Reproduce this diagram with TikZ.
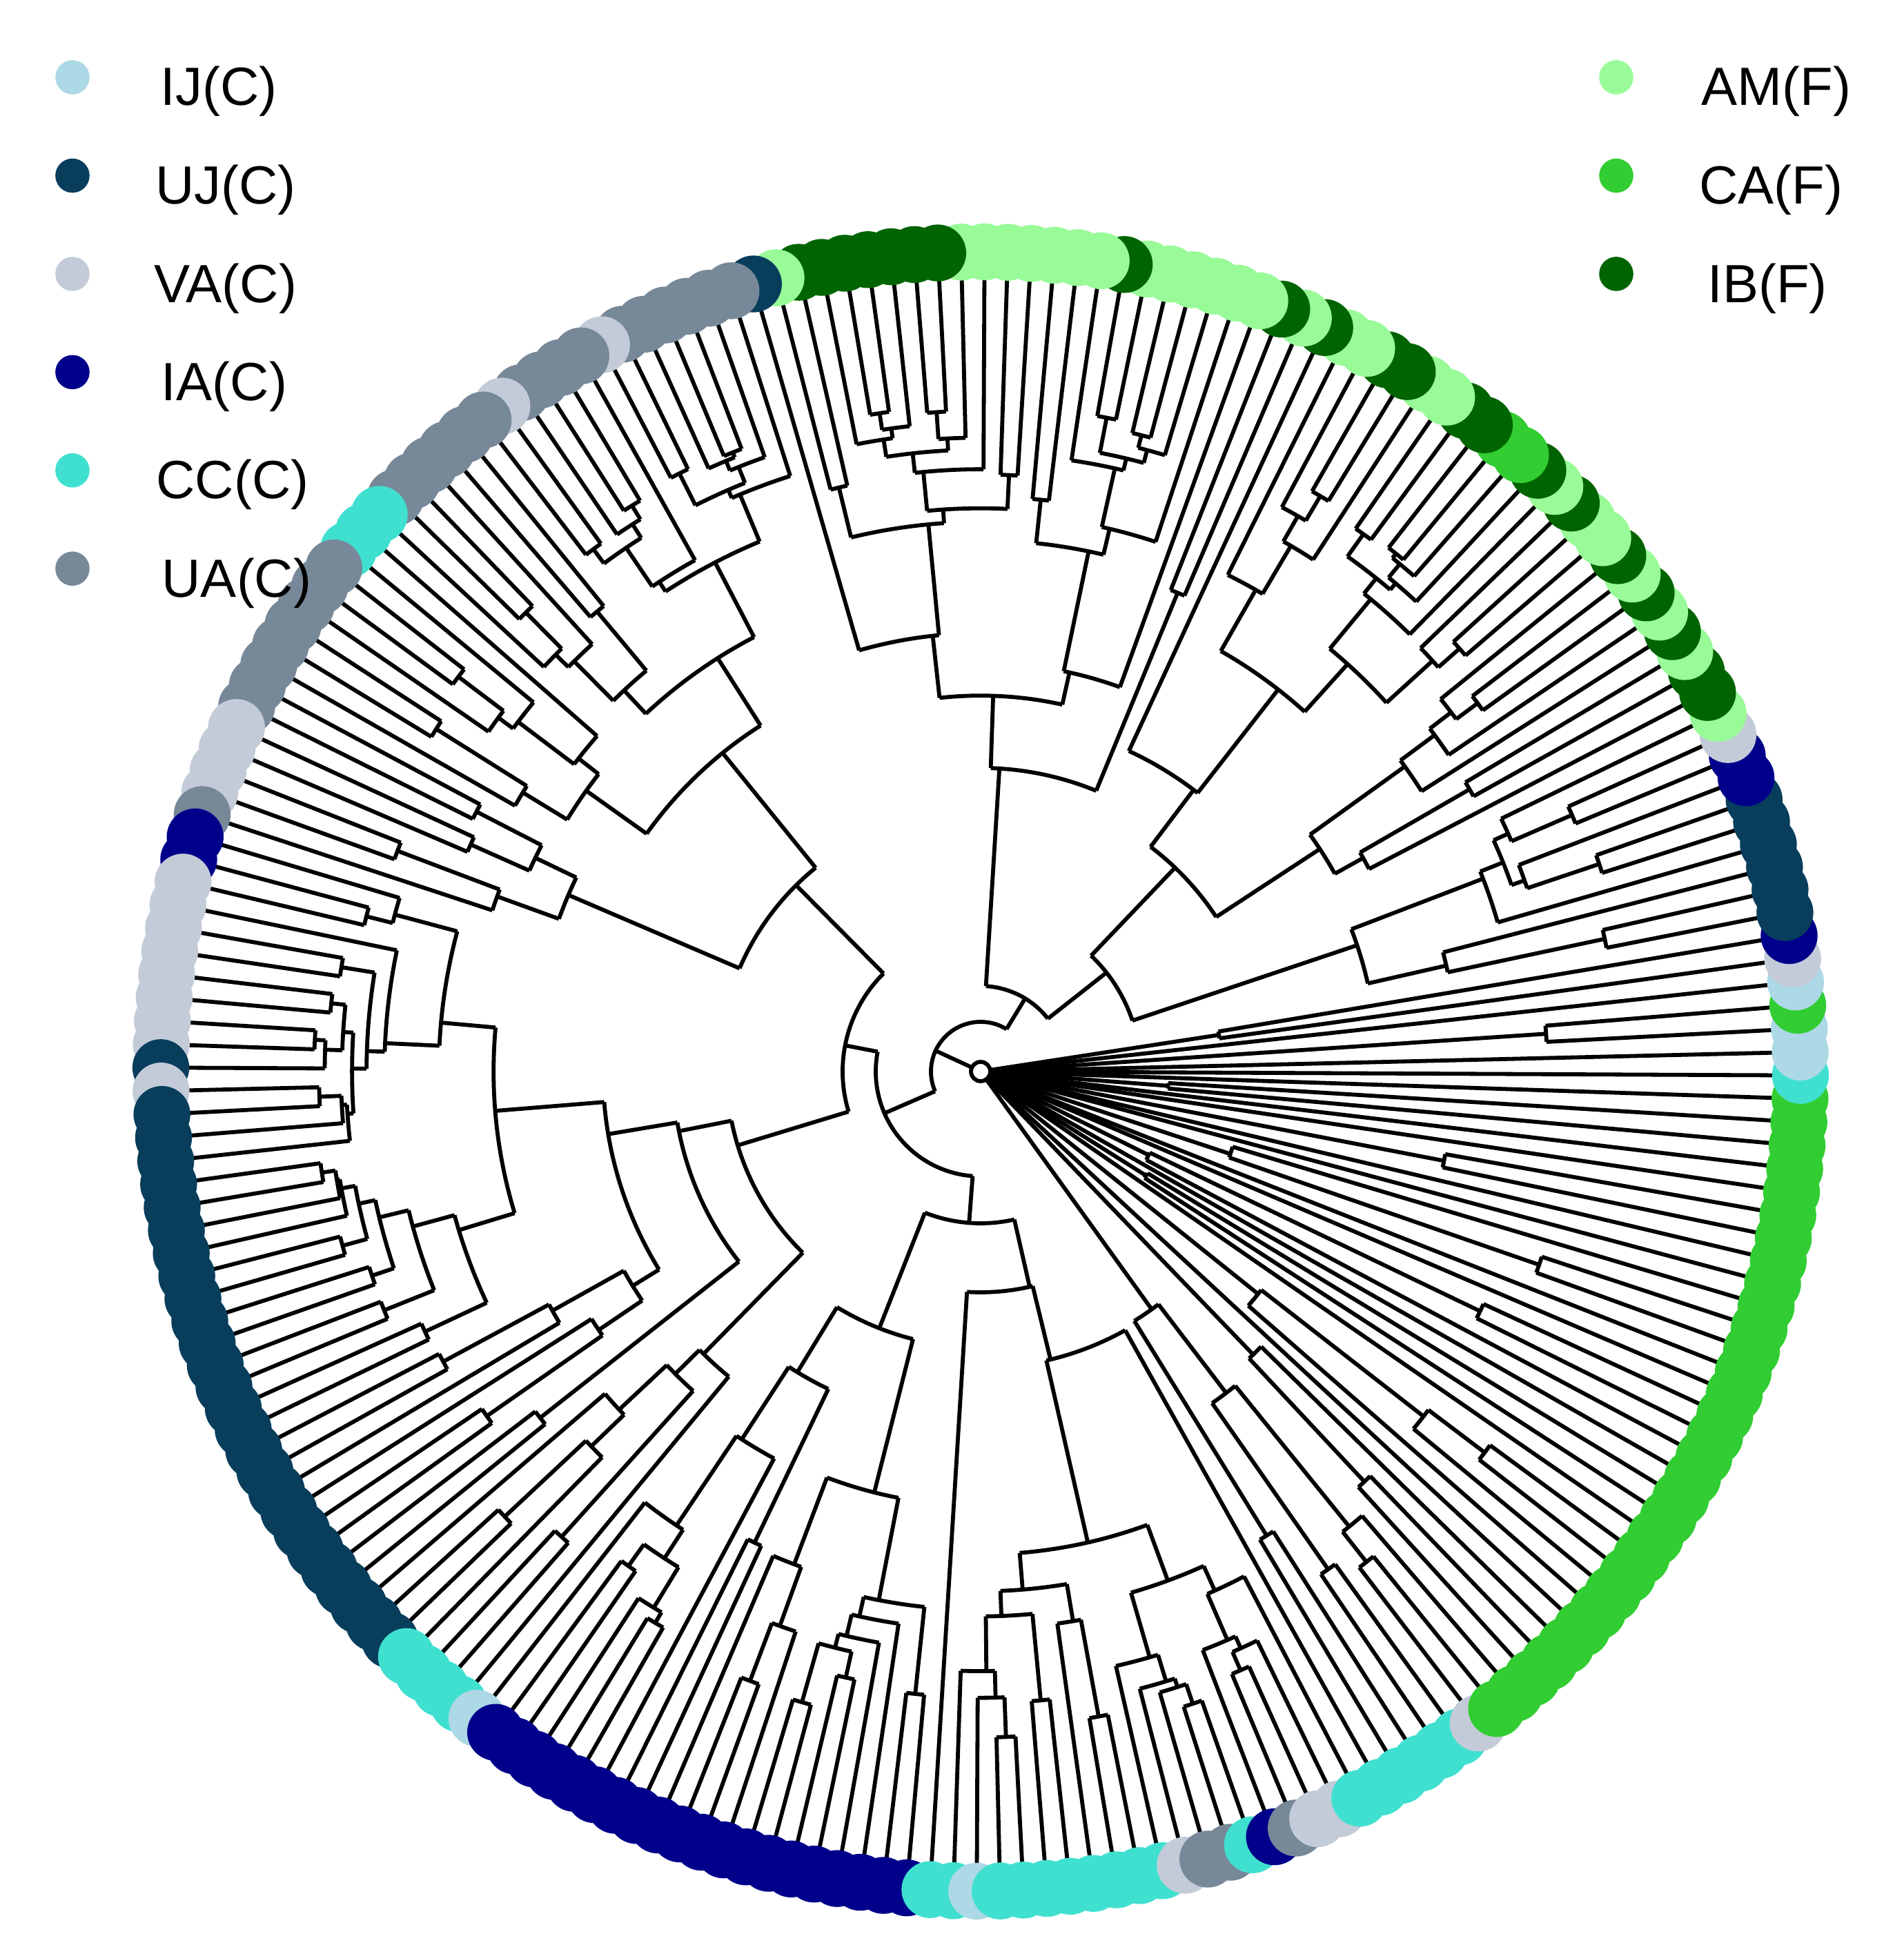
\documentclass[tikz,border=0pt]{standalone}
\usepackage{fontspec}
\setmainfont{Liberation Sans}
\definecolor{kIJ}{HTML}{ADD8E6}
\definecolor{kUJ}{HTML}{083E5C}
\definecolor{kVA}{HTML}{C4CBD8}
\definecolor{kIA}{HTML}{00008B}
\definecolor{kCC}{HTML}{40E0D0}
\definecolor{kUA}{HTML}{778899}
\definecolor{kAM}{HTML}{98FB98}
\definecolor{kCA}{HTML}{32CD32}
\definecolor{kIB}{HTML}{006400}
\newcount\rngx \global\rngx=4321
\newcount\rngt
\newcount\kkc
\def\Ast{-60}
\def\dA{1.636364}
\def\Rend{297}
\def\Rdot{297}
\def\Rlim{245}
\def\fmin{0.1}
\def\fspan{0.42}
\newcommand\nextrand{%
  \rngt=\rngx \multiply\rngt by 171\relax
  \global\rngx=\rngt
  \divide\rngt by 30269\relax \multiply\rngt by 30269\relax
  \global\advance\rngx by -\rngt
  \edef\rndv{\the\numexpr\rngx*999/30269\relax}}
\newcommand\tipline[2]{\begingroup
  \pgfmathsetmacro\ta{\Ast+(#1+0.5)*\dA}%
  \draw[br] (\ta:#2) -- (\ta:\Rend);\endgroup}
\newcommand\clnode[5]{\begingroup
  \pgfmathsetmacro\ta{\Ast+(#1+#3+1)*0.5*\dA}%
  \pgfmathsetmacro\angA{\Ast+(#1+#2+1)*0.5*\dA}%
  \pgfmathsetmacro\angB{\Ast+(#2+#3+2)*0.5*\dA}%
  \draw[br] (\ta:#4) -- (\ta:#5);
  \draw[br] (\angA:#5) arc[start angle=\angA,end angle=\angB,radius=#5];
  \endgroup}
\newcommand\subtreeR[4]{\begingroup
  \nextrand
  \kkc=\numexpr#2-#1\relax
  \multiply\kkc by \rndv\relax
  \divide\kkc by 1000\relax
  \advance\kkc by #1\relax
  \edef\kk{\the\kkc}%
  \clnode{#1}{\kk}{#2}{#3}{#4}%
  \edef\next{\noexpand\subtree{#1}{\kk}{#4}\noexpand\subtree{\the\numexpr\kk+1\relax}{#2}{#4}}%
  \expandafter\endgroup\next}
\newcommand\subtree[3]{%
  \ifnum#1=#2\relax
    \tipline{#1}{#3}%
  \else
    \begingroup
    \nextrand
    \ifnum\numexpr#2-#1\relax=1
      \pgfmathsetmacro\rr{#3+(\Rlim-#3)*(0.25+0.6*\rndv/1000)}%
    \else
      \pgfmathsetmacro\rr{#3+(\Rlim-#3)*(\fmin+\fspan*\rndv/1000)}%
    \fi
    \edef\next{\noexpand\subtreeR{#1}{#2}{#3}{\rr}}%
    \expandafter\endgroup\next
  \fi}
\newcommand\tipdots[3]{\foreach \i in {#1,...,#2}{%
  \pgfmathsetmacro\ta{\Ast+(\i+0.5)*\dA}%
  \fill[#3] (\ta:\Rdot) circle[radius=10.3];}}
\begin{document}
\begin{tikzpicture}[x=1pt,y=1pt,
  br/.style={line width=1.45pt,black,line join=miter},
  lab/.style={anchor=base,inner sep=0pt,font=\fontsize{19.5}{23}\selectfont},
  ldot/.style={circle,inner sep=0pt,minimum size=12.4pt}]
\useasboundingbox (-355.25,-319.75) rectangle (334.25,388.25);
% root
\draw[br] (0,0) circle[radius=3.5];
% fan attached to the root
\def\fmin{0.22}\def\fspan{0.5}
\subtree{0}{6}{3.5}
\subtree{7}{9}{3.5}
\subtree{10}{10}{3.5}
\subtree{11}{14}{3.5}
\subtree{15}{15}{3.5}
\subtree{16}{17}{3.5}
\subtree{18}{18}{3.5}
\subtree{19}{21}{3.5}
\subtree{22}{22}{3.5}
\subtree{23}{23}{3.5}
\subtree{24}{26}{3.5}
\subtree{27}{27}{3.5}
\subtree{28}{28}{3.5}
\subtree{29}{30}{3.5}
\subtree{31}{31}{3.5}
\subtree{32}{32}{3.5}
\subtree{33}{34}{3.5}
\subtree{35}{35}{3.5}
\subtree{36}{36}{3.5}
\subtree{37}{37}{3.5}
\subtree{38}{39}{3.5}
\subtree{40}{40}{3.5}
\subtree{41}{42}{3.5}
% main clade
\def\fmin{0.1}\def\fspan{0.42}
\clnode{43}{101}{219}{3.5}{18}
\clnode{43}{76}{101}{18}{31}
\clnode{102}{177}{219}{18}{38}
\clnode{102}{135}{177}{38}{50}
\clnode{178}{198}{219}{38}{55}
\subtreeR{43}{76}{31}{58}
\subtreeR{77}{101}{31}{110}
\subtreeR{102}{135}{50}{95}
\subtreeR{136}{177}{50}{92}
\subtreeR{178}{198}{55}{100}
\subtreeR{199}{219}{55}{80}
% tip dots
\tipdots{0}{3}{kCC}
\tipdots{4}{4}{kVA}
\tipdots{5}{35}{kCA}
\tipdots{36}{36}{kCC}
\tipdots{37}{38}{kIJ}
\tipdots{39}{39}{kCA}
\tipdots{40}{40}{kIJ}
\tipdots{41}{41}{kVA}
\tipdots{42}{42}{kIA}
\tipdots{43}{48}{kUJ}
\tipdots{49}{50}{kIA}
\tipdots{51}{51}{kVA}
\tipdots{52}{52}{kAM}
\tipdots{53}{54}{kIB}
\tipdots{55}{55}{kAM}
\tipdots{56}{56}{kIB}
\tipdots{57}{57}{kAM}
\tipdots{58}{58}{kIB}
\tipdots{59}{59}{kAM}
\tipdots{60}{60}{kIB}
\tipdots{61}{62}{kAM}
\tipdots{63}{63}{kIB}
\tipdots{64}{64}{kAM}
\tipdots{65}{65}{kIB}
\tipdots{66}{67}{kCA}
\tipdots{68}{69}{kIB}
\tipdots{70}{71}{kAM}
\tipdots{72}{73}{kIB}
\tipdots{74}{75}{kAM}
\tipdots{76}{76}{kIB}
\tipdots{77}{77}{kAM}
\tipdots{78}{78}{kIB}
\tipdots{79}{84}{kAM}
\tipdots{85}{85}{kIB}
\tipdots{86}{92}{kAM}
\tipdots{93}{99}{kIB}
\tipdots{100}{100}{kAM}
\tipdots{101}{101}{kUJ}
\tipdots{102}{107}{kUA}
\tipdots{108}{108}{kVA}
\tipdots{109}{112}{kUA}
\tipdots{113}{113}{kVA}
\tipdots{114}{119}{kUA}
\tipdots{120}{122}{kCC}
\tipdots{123}{130}{kUA}
\tipdots{131}{134}{kVA}
\tipdots{135}{135}{kUA}
\tipdots{136}{137}{kIA}
\tipdots{138}{145}{kVA}
\tipdots{146}{146}{kUJ}
\tipdots{147}{147}{kVA}
\tipdots{148}{173}{kUJ}
\tipdots{174}{177}{kCC}
\tipdots{178}{178}{kIJ}
\tipdots{179}{198}{kIA}
\tipdots{199}{200}{kCC}
\tipdots{201}{201}{kIJ}
\tipdots{202}{209}{kCC}
\tipdots{210}{210}{kVA}
\tipdots{211}{212}{kUA}
\tipdots{213}{213}{kCC}
\tipdots{214}{214}{kIA}
\tipdots{215}{215}{kUA}
\tipdots{216}{217}{kVA}
\tipdots{218}{219}{kCC}
% legend left
\node[ldot,fill=kIJ] (dIJ) at (-329,360.25) {};
\node[ldot,fill=kUJ] (dUJ) at (-329,324.6) {};
\node[ldot,fill=kVA] (dVA) at (-329,289) {};
\node[ldot,fill=kIA] (dIA) at (-329,253.4) {};
\node[ldot,fill=kCC] (dCC) at (-329,217.8) {};
\node[ldot,fill=kUA] (dUA) at (-329,182.2) {};
\node[lab] (tIJ) at (-276,350) {IJ(C)};
\node[lab] (tUJ) at (-273.5,314.3) {UJ(C)};
\node[lab] (tVA) at (-273.5,278.7) {VA(C)};
\node[lab] (tIA) at (-274,243.1) {IA(C)};
\node[lab] (tCC) at (-271,207.5) {CC(C)};
\node[lab] (tUA) at (-269.5,171.9) {UA(C)};
% legend right
\node[ldot,fill=kAM] (dAM) at (230.25,360.25) {};
\node[ldot,fill=kCA] (dCA) at (230.25,324.6) {};
\node[ldot,fill=kIB] (dIB) at (230.25,289) {};
\node[lab] (tAM) at (288.25,350) {AM(F)};
\node[lab] (tCA) at (286.25,314.3) {CA(F)};
\node[lab] (tIB) at (285,278.7) {IB(F)};
\end{tikzpicture}
\end{document}
